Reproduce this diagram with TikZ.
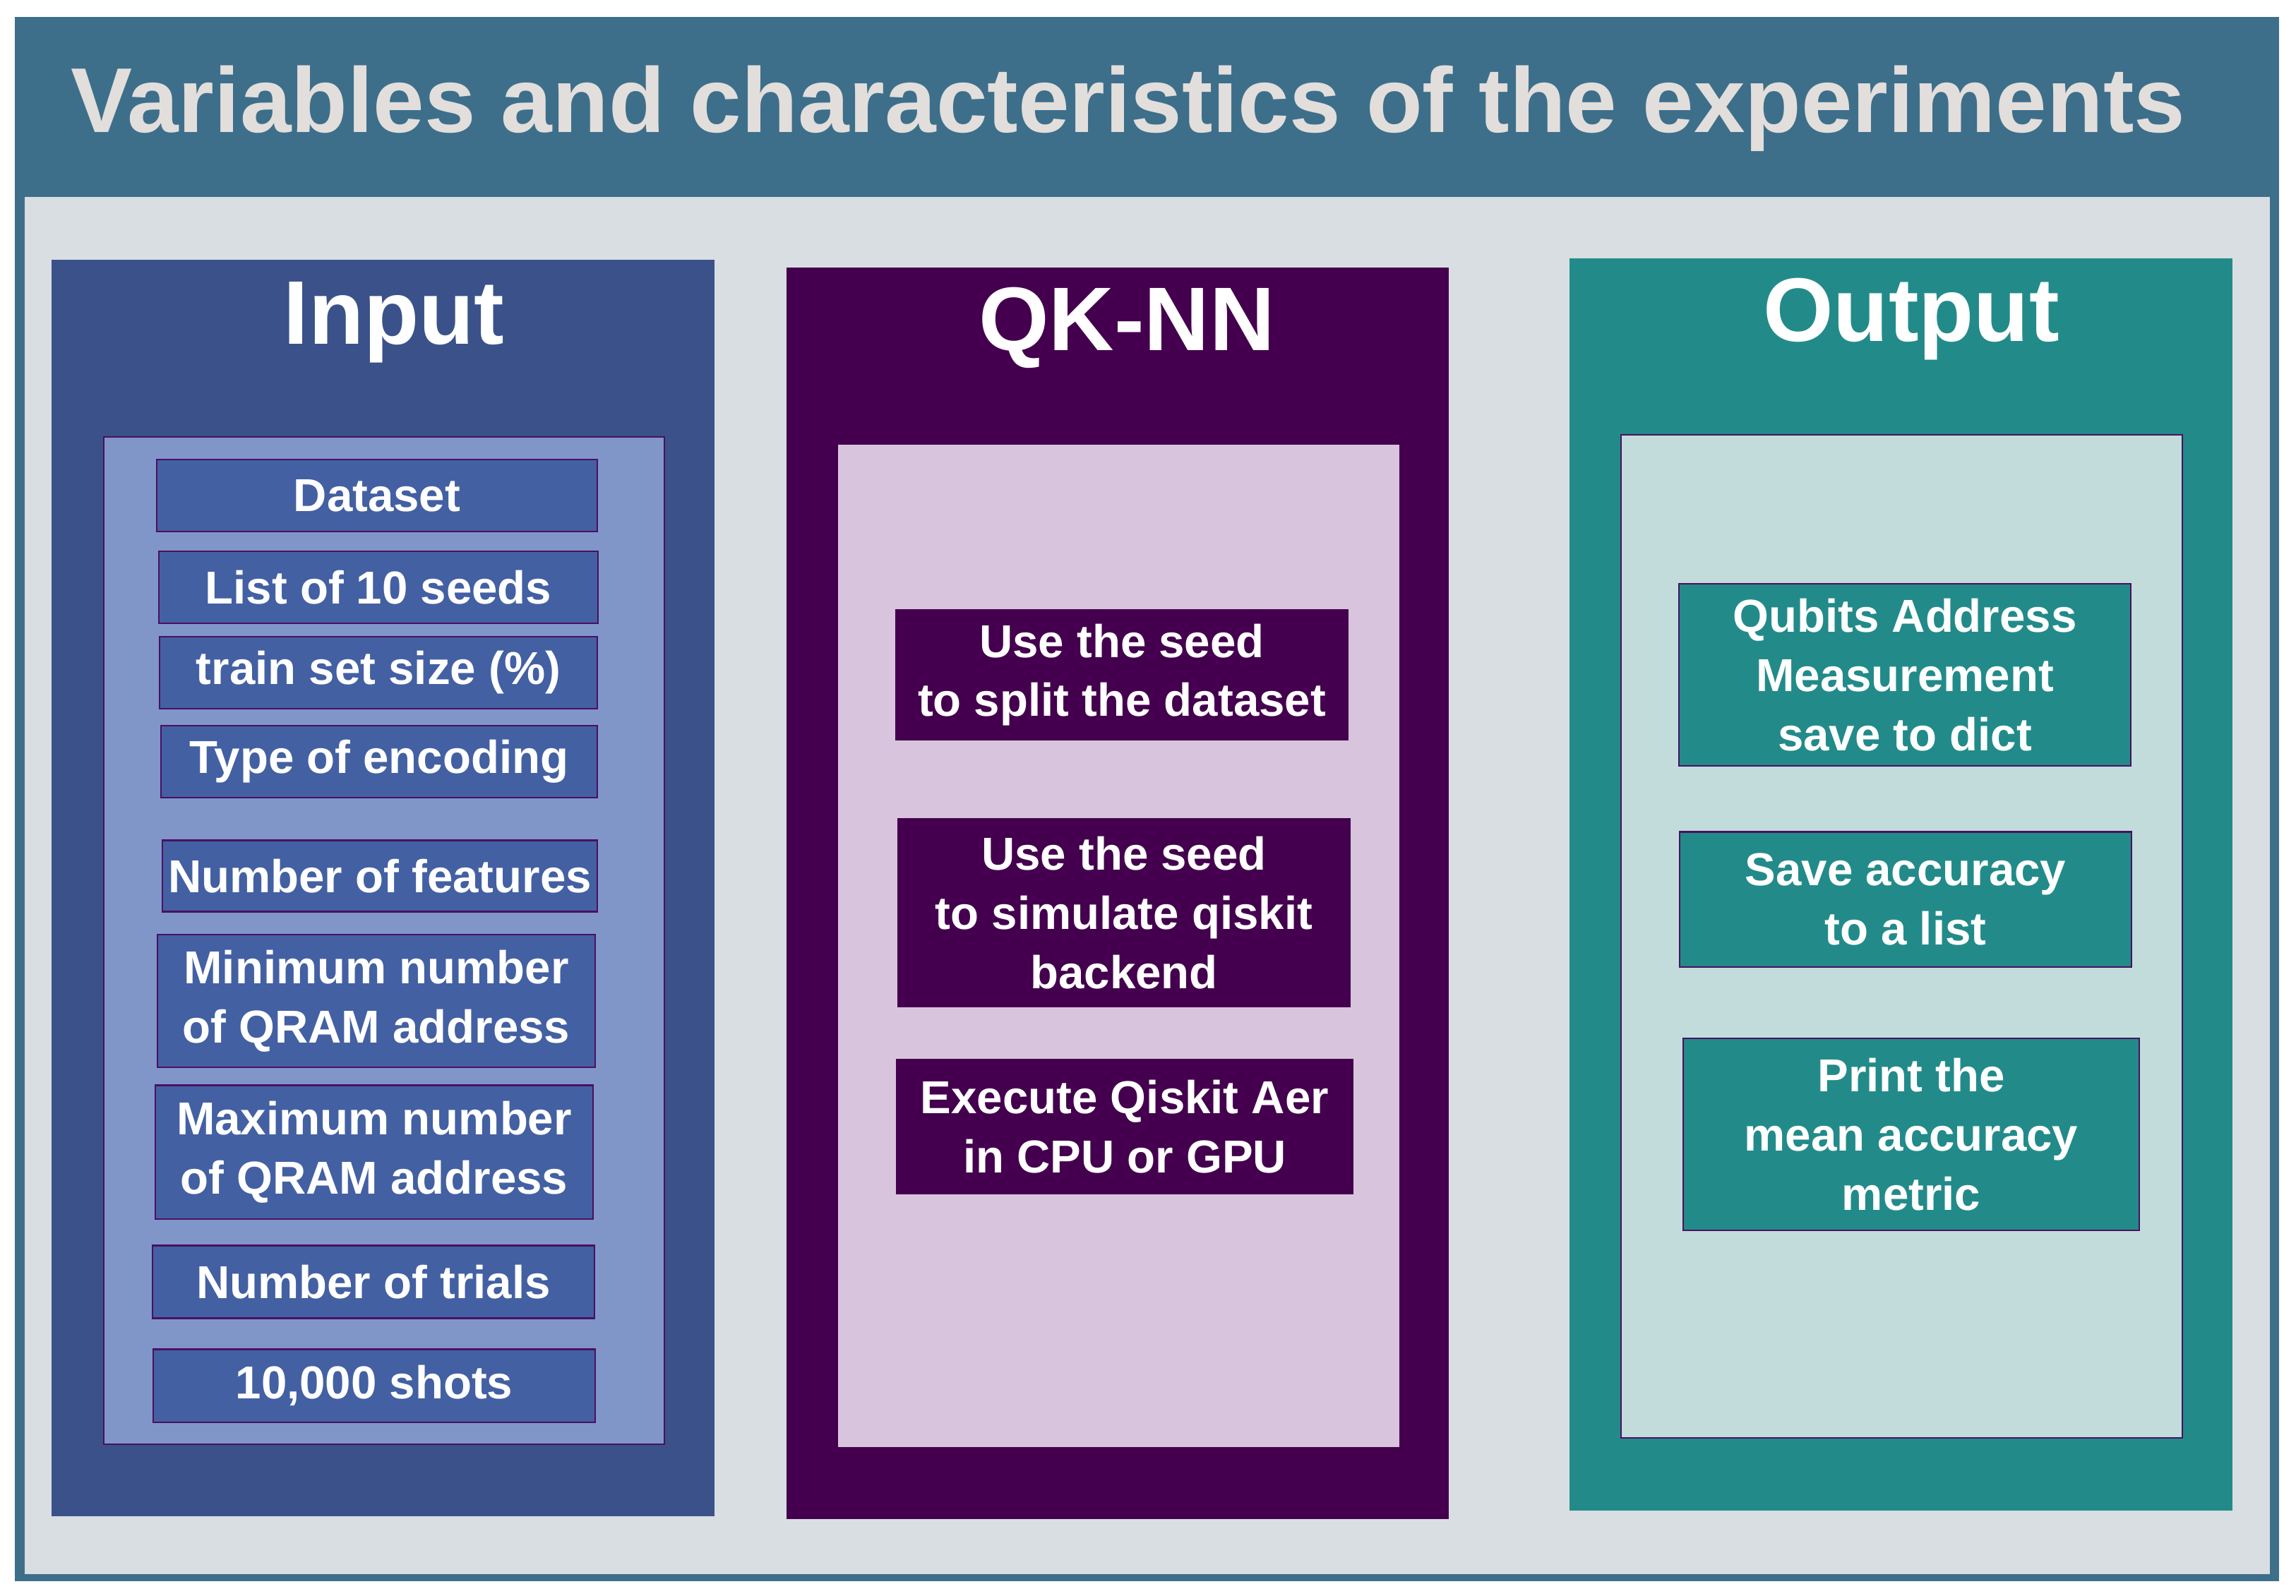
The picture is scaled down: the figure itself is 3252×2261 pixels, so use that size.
\documentclass[tikz,border=0pt]{standalone}
\usepackage{fontspec}
\setmainfont{Liberation Sans}
\usepackage{xcolor}
\usepackage{tikz}
\definecolor{cornice}{HTML}{3D6F8B}
\definecolor{sfondo}{HTML}{D9DEE2}
\definecolor{chiaro}{HTML}{E2DEDB}
\definecolor{bordo}{HTML}{4A1060}
\definecolor{blu}{HTML}{3A5289}
\definecolor{bluchiaro}{HTML}{8096C8}
\definecolor{blubox}{HTML}{4360A3}
\definecolor{viola}{HTML}{44004E}
\definecolor{violachiaro}{HTML}{D8C4DC}
\definecolor{verde}{HTML}{228B8A}
\definecolor{verdechiaro}{HTML}{C2DCDC}

\begin{document}
\begin{tikzpicture}[x=0.01cm, y=-0.01cm,
    voce/.style={draw=bordo, line width=0.6pt, text=white, align=center, inner sep=0pt,
        font=\bfseries\fontsize{18.6}{23.8}\selectfont},
    titolo/.style={text=white, anchor=base, inner sep=0pt,
        font=\bfseries\fontsize{36.4}{40}\selectfont}]
    % Cornice
    \useasboundingbox (0,0) rectangle (3252,2261);
    \fill[cornice] (21,24) rectangle (3228,2240);
    \fill[sfondo] (35,279) rectangle (3215,2230);
    \node[titolo, text=chiaro, font=\bfseries\fontsize{37.1}{40}\selectfont] (titolo) at (1598,188) {Variables and characteristics of the experiments};

    % Input
    \fill[blu] (73,368) rectangle (1012,2148);
    \draw[bordo, line width=0.6pt, fill=bluchiaro] (147,619) rectangle (941,2046);
    \node[titolo] (input) at (558,487) {Input};
    \node[voce, fill=blubox, minimum width=6.24cm, minimum height=1.02cm] (dataset) at (534,702) {Dataset};
    \node[voce, fill=blubox, minimum width=6.21cm, minimum height=1.02cm] (semi) at (536,832) {List of 10 seeds};
    \node[voce, fill=blubox, minimum width=6.19cm, minimum height=1.02cm] (train) at (536,953) {train set size (\%)};
    \node[voce, fill=blubox, minimum width=6.17cm, minimum height=1.02cm] (encoding) at (537,1079) {Type of encoding};
    \node[voce, fill=blubox, minimum width=6.16cm, minimum height=1.01cm] (features) at (538,1241) {Number of features};
    \node[voce, fill=blubox, minimum width=6.20cm, minimum height=1.88cm] (minqram) at (533,1418) {Minimum number\\ of QRAM address};
    \node[voce, fill=blubox, minimum width=6.19cm, minimum height=1.89cm] (maxqram) at (530,1632) {Maximum number\\ of QRAM address};
    \node[voce, fill=blubox, minimum width=6.26cm, minimum height=1.03cm] (trials) at (529,1816) {Number of trials};
    \node[voce, fill=blubox, minimum width=6.25cm, minimum height=1.03cm] (shots) at (530,1963) {10,000 shots};

    % QK-NN
    \fill[viola] (1114,379) rectangle (2052,2152);
    \fill[violachiaro] (1187,630) rectangle (1982,2050);
    \node[titolo] (qknn) at (1596,496) {QK-NN};
    \node[voce, draw=viola, fill=viola, minimum width=6.39cm, minimum height=1.84cm] (split) at (1589,956) {Use the seed\\ to split the dataset};
    \node[voce, draw=viola, fill=viola, minimum width=6.40cm, minimum height=2.65cm] (simula) at (1592,1293) {Use the seed\\ to simulate qiskit\\ backend};
    \node[voce, draw=viola, fill=viola, minimum width=6.45cm, minimum height=1.89cm] (aer) at (1593,1596) {Execute Qiskit Aer\\ in CPU or GPU};

    % Output
    \fill[verde] (2223,366) rectangle (3162,2140);
    \draw[bordo, line width=0.6pt, fill=verdechiaro] (2296,616) rectangle (3091,2037);
    \node[titolo] (output) at (2707,483) {Output};
    \node[voce, fill=verde, minimum width=6.40cm, minimum height=2.58cm] (misura) at (2698,956) {Qubits Address\\ Measurement\\ save to dict};
    \node[voce, fill=verde, minimum width=6.39cm, minimum height=1.91cm] (accuracy) at (2699,1274) {Save accuracy\\ to a list};
    \node[voce, fill=verde, minimum width=6.45cm, minimum height=2.72cm] (media) at (2707,1607) {Print the\\ mean accuracy\\ metric};
\end{tikzpicture}
\end{document}
